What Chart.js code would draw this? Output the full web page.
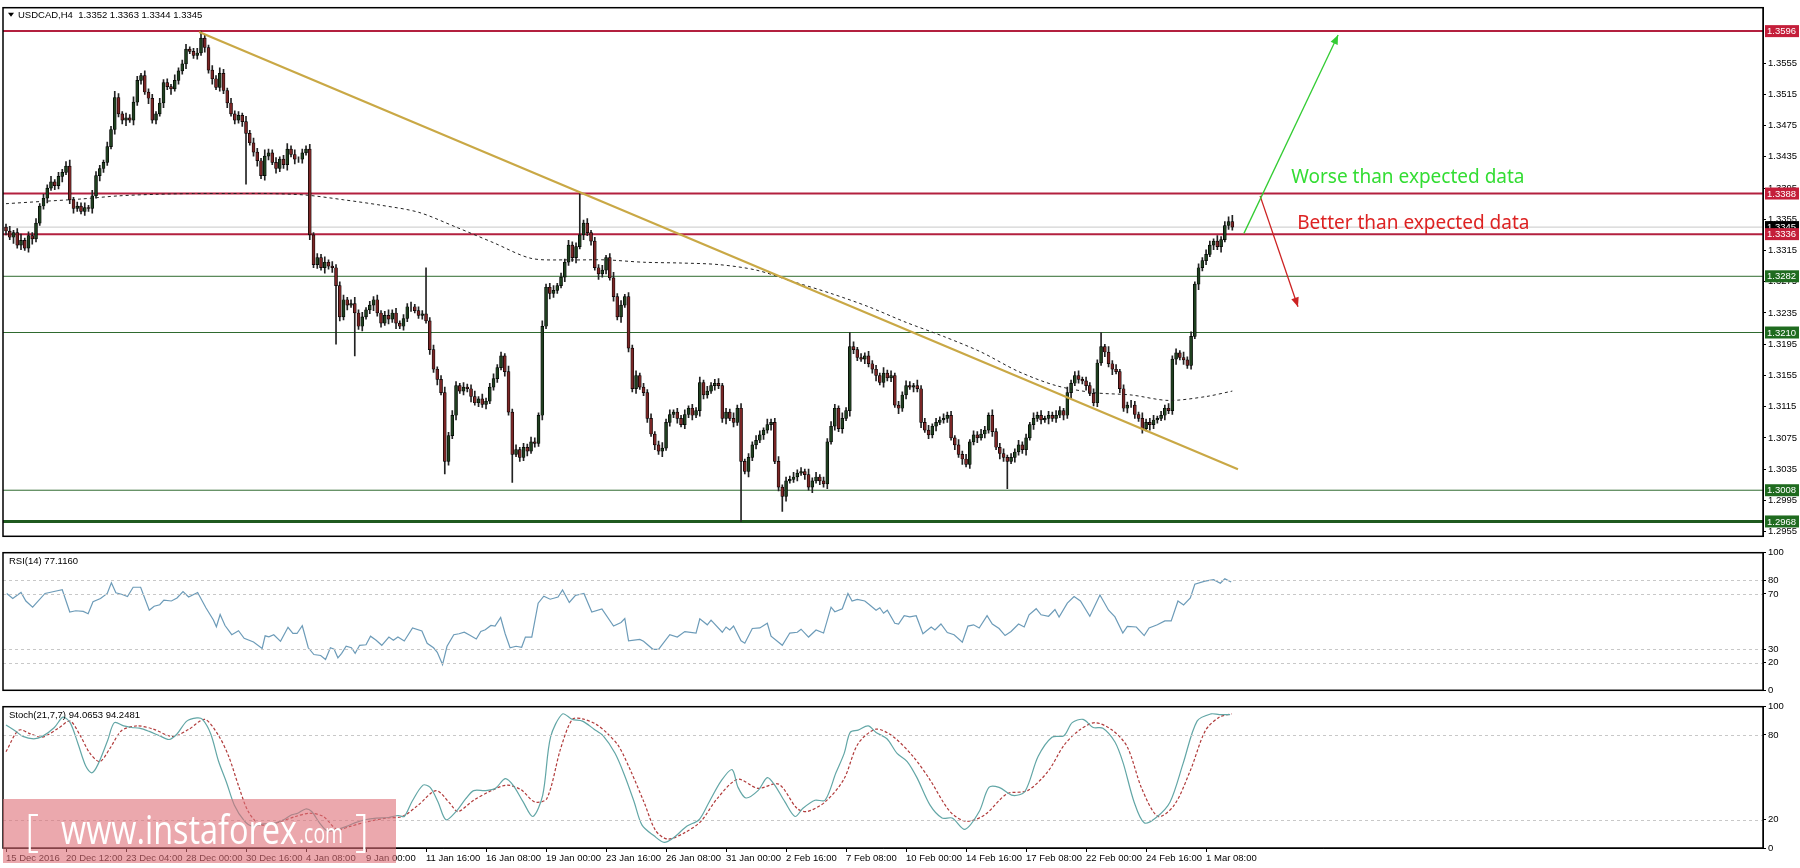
<!DOCTYPE html>
<html><head><meta charset="utf-8">
<script src="https://cdn.jsdelivr.net/npm/chart.js@4"></script>
<style>
html,body{margin:0;padding:0;background:#fff;width:1800px;height:868px;overflow:hidden;font-family:"Liberation Sans",sans-serif}
canvas{position:absolute;left:0}
#wm{position:absolute;left:3px;top:799px;width:393px;height:64px;background:rgba(222,110,118,0.6);color:#fff;font-family:"Open Sans","Liberation Sans",sans-serif;white-space:nowrap;overflow:hidden}
#wm span{position:absolute;top:4px;transform-origin:0 0;display:inline-block}
</style></head><body>
<canvas id="cMain" width="1800" height="544" style="top:0"></canvas>
<canvas id="cRsi" width="1800" height="153" style="top:545px"></canvas>
<canvas id="cSto" width="1800" height="169" style="top:699px"></canvas>
<div id="wm"><span style="left:22px;font-size:44px;font-weight:300;top:0px">[</span><span id="wmt" style="left:58px;font-size:40px;top:2px">www.instaforex</span><span id="wmc" style="left:296px;font-size:28px;top:14px">.com</span><span style="left:352px;font-size:44px;font-weight:300;top:0px">]</span></div>
<script>
// ---- data (prices in pips above 1.3000) ----
const firstOpen = 345;
const closes = [
340,332,338,322,328,318,334,330,350,372,
382,395,403,398,410,415,423,380,369,372,
365,370,369,385,411,420,428,448,470,511,
490,482,485,482,505,533,539,518,510,482,
490,504,530,525,522,533,545,554,573,570,
565,568,587,575,546,535,524,542,520,504,
490,482,488,480,465,453,441,430,411,436,
440,428,420,432,425,445,438,432,432,440,
445,335,297,306,293,300,295,293,270,230,
252,245,247,235,218,230,239,245,252,235,
222,232,227,235,222,218,228,243,243,238,
232,234,225,188,163,150,133,45,78,104,
142,135,140,138,128,120,125,118,122,140,
151,165,180,160,108,54,60,50,63,58,
70,68,104,218,268,260,264,270,281,300,
322,306,320,335,350,338,327,293,285,290,
306,280,256,230,245,256,190,138,155,140,
133,100,80,66,58,62,95,105,108,100,
92,105,113,104,110,146,130,135,142,145,
142,100,108,100,95,113,45,32,50,66,
72,79,85,92,95,45,12,0,20,22,
25,30,32,28,12,20,25,20,16,70,
90,113,87,100,110,192,188,178,176,180,
170,163,155,146,158,152,155,117,113,130,
142,140,142,138,95,85,79,90,95,98,
100,104,75,66,54,48,41,70,79,75,
80,85,104,83,63,55,50,45,50,57,
66,60,75,92,100,104,98,100,104,100,
104,110,104,133,145,155,150,148,142,132,
120,171,192,185,170,163,160,138,113,117,
117,105,100,87,95,92,98,100,104,113,
110,176,184,178,175,168,205,272,293,302,
310,322,327,320,329,347,352,345];
const wickUp = [
4,6,3,5,8,3,5,4,6,3, 5,4,7,3,5,4,6,8,3,5, 4,6,3,7,5,4,3,6,4,8, 5,3,6,4,7,5,3,6,4,5,
3,6,4,5,3,7,4,5,6,3, 4,6,9,5,3,6,4,7,5,3, 6,4,5,3,7,4,6,5,3,8, 5,4,6,3,5,7,4,6,3,5,
4,6,3,5,4,7,3,6,4,5, 6,3,5,8,4,6,3,5,4,6, 3,5,7,4,6,3,5,4,6,3, 5,4,59,4,6,3,5,7,4,6,
5,3,6,4,5,7,3,6,4,5, 6,4,5,3,7,4,6,3,5,4, 6,5,3,7,4,5,6,3,5,4, 6,4,5,53,4,6,3,5,4,6,
3,5,7,4,6,3,5,4,6,3, 5,4,6,3,5,7,4,6,3,5, 4,6,3,5,4,7,3,6,4,5, 6,3,5,4,7,4,6,3,5,4,
6,5,3,7,4,5,6,3,5,4, 6,4,5,3,7,4,6,3,5,4, 6,5,3,7,4,18,6,3,5,4, 6,4,5,3,7,4,6,3,5,4,
6,5,3,7,4,5,6,3,5,4, 6,4,5,3,7,4,6,3,5,4, 6,5,3,7,4,5,6,3,5,4, 6,4,5,3,7,4,6,3,5,4,
6,5,3,7,4,5,6,3,5,4, 6,4,18,3,7,4,6,3,5,4, 6,5,3,7,4,5,6,3,5,4, 6,4,5,3,7,4,6,3,5,4,
6,5,3,7,4,5,6,8];
const wickDn = [
5,3,8,4,6,3,5,7,4,3, 4,6,3,5,4,7,3,5,6,4, 3,5,4,6,3,7,5,4,3,6, 4,5,7,3,6,4,5,3,7,4,
5,3,6,4,7,3,5,4,6,3, 4,5,3,6,4,7,3,5,4,6, 3,5,4,6,65,3,5,7,4,6, 5,3,6,4,5,7,3,6,4,5,
3,6,4,5,3,7,4,6,75,5, 4,6,3,55,4,6,3,5,7,4, 5,3,6,4,7,3,5,4,6,3, 4,5,3,6,4,7,3,16,5,4,
6,3,5,4,7,3,5,4,6,3, 4,5,3,6,4,36,3,5,4,6, 3,5,4,6,3,7,5,4,3,6, 4,5,7,3,6,4,5,3,7,4,
5,3,6,4,7,3,5,4,6,3, 4,5,3,6,4,7,3,5,4,6, 3,5,4,6,3,7,5,4,3,6, 4,5,7,3,6,4,77,3,7,4,
5,3,6,4,7,3,5,19,6,3, 4,5,3,6,4,7,3,5,4,6, 3,5,4,6,3,7,5,4,3,6, 4,5,7,3,6,4,5,3,7,4,
5,3,6,4,7,3,5,4,6,3, 4,5,3,6,4,7,3,5,4,6, 3,5,4,6,3,7,5,35,3,6, 4,5,7,3,6,4,5,3,7,4,
5,3,6,4,7,3,5,4,6,3, 4,5,3,6,4,7,3,5,4,6, 3,5,4,6,3,7,5,4,3,6, 4,5,7,3,6,4,5,3,7,4,
5,3,6,4,7,3,5,4];
const maBars = [0,10,20,30,40,50,60,70,80,90,100,110,120,130,140,150,160,170,180,190,200,210,220,230,240,250,260,270,280,290,300,310,320,327];
const maVals = [375,378,381,385,387,388,388,388,386,380,373,364,345,325,305,303,303,300,299,297,290,275,260,243,223,205,185,160,142,133,130,123,128,135];
const trendBars = [51.5, 328.5];
const trendVals = [1.3595, 1.3035];
const levels = [1.3596, 1.3388, 1.3345, 1.3336, 1.3282, 1.3210, 1.3008, 1.2968];
const levelKinds = ['red','red','cur','red','green','green','green','green2'];
const greenArrowBars = [330.1, 355.2], greenArrowVals = [1.3337, 1.3591];
const redArrowBars = [334.4, 344.5], redArrowVals = [1.3385, 1.3243];
const notes = [{t:'Worse than expected data', bar:342.7, v:1.3409, c:'#33dd33'},{t:'Better than expected data', bar:344.3, v:1.3350, c:'#dd2222'}];
const rsiBars = [0.2,1.8,4,5.3,7.1,10.4,12.5,15,17,18.6,20.6,21.9,23.2,25.2,27,28.1,29.3,30.8,32.4,33.9,35.9,38.2,39.5,41,42.1,44.1,45.6,47.2,48.7,51.1,53.3,55.3,56.1,57.1,58.4,60.2,62,63.5,66,68.3,69.1,70.1,71.4,73.2,75.2,76.5,77.6,79,80.6,82.1,83.9,85.2,86.5,87.5,88.5,89.5,90.7,92.1,93.1,94.3,96,97.2,98.7,100.2,102.1,103.3,104.5,106.2,108.4,110.9,112.3,114,115,116.4,117.6,119.4,120.8,122.2,123.7,125.4,126.6,127.8,129.3,130.4,131.9,133.1,134.4,136,137.5,138.5,140.2,141.9,143.4,145.1,147.2,148.4,150.2,151.8,154.1,156.2,158.9,162,164,165,166,169,170,172.5,174,177,179,181,184,185,187,188,191,192,193,194,196,197,199,201,203,204,207,209,211,212,214,216,218,220,221,223,224.5,225.6,227,229,230,232,233,234,235,237,238,239.5,241,242.7,244.5,246.7,247.7,249.3,251,252.8,255,256.5,258,259.5,261.6,263,264.8,266.4,268,270,271.5,272.8,274.7,276,278,279.7,280.8,283,284.8,286.5,289,291.7,294,295.7,297.8,299,301.4,303.5,304.8,307,309,310.7,312.5,314,315.8,317,319.7,322,323.8,325,326.7];
const rsiVals = [70.4,66.7,71.1,64.9,60.4,70.4,71.6,73.1,56.9,57.8,57.3,55.6,64.4,66.7,70.4,78.2,70.9,69.8,68.2,74.9,74.9,58.2,61.1,62.2,65.6,64.9,67.1,71.8,67.8,71.1,60,51.1,46.2,55.1,47.1,40.4,43.3,37.8,35.1,30.4,39.6,38.9,40.4,35.6,45.8,41.3,41.3,46.9,30.9,26,25.3,22.4,30.9,29.8,23.6,26.9,32,30.9,26.9,32.7,33.1,39.3,36.4,32.7,38.7,36.4,38.7,35.8,45.3,43.1,34.2,30.9,27.6,18.7,32,40.4,41.1,42.2,40,37.3,42.7,44,47.1,46.7,52.9,41.1,30.9,32,31.3,38.7,38.7,63.3,68.4,66.2,67.8,72.9,63.8,68.9,70.4,56.9,59.1,46.7,49.3,52.2,36,37,35.6,29.8,29.8,40.4,38.7,42.7,41.6,52,47.6,51,42.2,46,43.8,46.7,36,34.2,44.9,45.3,48.7,39.3,32.7,41.6,42.2,44.4,38.7,43.8,41.6,60.4,57.1,59.3,70.4,64.9,66,64.9,62.7,58.2,60,56,58.2,48.7,48.2,54.2,53.3,54.2,41.1,46,43.8,48.2,42,40.4,34.9,46.7,47.6,45.3,54.2,48.2,44.9,39.8,42.7,48.2,46,54.9,59.3,54.9,53.8,58.7,53.3,63.3,68.2,64.9,53.8,69.3,58.2,53.3,41.6,46.4,46,39.8,45.3,47.6,50.4,50.4,64.9,62,67.1,77.1,79.3,80.4,77.8,81,78.7];
const kBars = [0,2.4,4.5,7.4,9.7,12.9,15.2,17.1,19.2,21.3,22.9,24.5,27.1,28.9,31.4,33.5,35.6,38.2,40.9,43.5,45.6,48.2,50.9,52.4,54.6,56.7,58.8,60.9,63.5,65.6,68.8,72,74,76.2,77.8,79.9,81.5,83.6,85.7,88.3,91,93,95.7,98.8,102,104.6,106.2,108.3,111.2,113.1,115.2,117.3,120,122.6,124.7,127.8,130.5,133.1,135.2,137.9,140.5,143.1,145.2,148.4,151,153.7,156.8,159.2,162.4,165,167.5,169.6,172.8,175.5,178.1,181.6,184.8,187.5,190.7,193.6,195.2,197.3,200.5,203,204.8,207.7,210.4,212.5,215.7,218.4,221.3,223.5,225.1,227.2,229.9,232,234.9,237.6,240.3,242.9,246.4,249.6,252.3,255.7,259.5,262.1,264.8,268.5,271.7,275.2,278.9,282.1,284.3,287.2,289.9,292.5,295.7,297.9,300.8,303.5,306.7,310.4,313.9,317.6,321.3,323.5,326.4];
const kVals = [87.1,83,79,77.3,79,85.3,92.6,88.7,73.8,57.8,53.2,59,76.1,88.7,86.4,85.3,84.8,82.5,79.5,76.8,80.7,89.8,92.1,91,80.7,61.2,46.4,30.3,19.4,15.5,17.1,17.8,20,23.5,24.6,27.6,25.8,17.8,12,13.2,15.5,17.8,20,21.2,21.6,23,22.3,33.1,44.5,42.9,32.6,20,25.8,34.9,40.6,40.6,42.2,49.1,44.5,32.6,22.3,37.2,78.4,94.9,91,89.8,84.1,79.5,67,51,32.6,16.2,8.6,4,7.5,15.5,20,32.6,47.5,55.5,42.9,35.4,40.6,49.8,45.2,32.6,22.3,28.1,33.8,33.8,53.2,67,81.8,83.4,86.4,81.8,77.3,67,61.2,49.8,30.3,21.2,21.2,13.2,25.8,42.9,42.9,37.2,40,64.7,78.4,79.5,88.7,91,85.3,84.8,75,60.1,32.6,17.8,21.6,32.6,60.1,89.8,94.9,94.4,94.4];
const dBars = [0,3.4,6.6,9.7,14,17.1,19.8,22.4,25,27.7,30.8,35,39.3,44.5,48.8,53,56.7,59.4,62,64.6,67.8,72,77.2,80.9,84.6,88.3,92,96.2,101.5,105.7,109.9,114.7,118.4,120.5,124.7,129.4,133.6,137.3,141,144.2,147.9,151,153.7,157.4,160.5,163.5,166.8,170.1,173.3,176.5,181,185.3,189.6,195.1,200.5,206,210.9,213.6,218.4,223.4,227.2,232,236.5,241.9,246.3,251.7,256,261,266.9,272.4,277.9,282.1,286,290.4,295.2,299,302.9,307.2,311.5,315.9,319.8,323.5,326.8];
const dVals = [68.1,83.4,80.7,78.4,84.8,89.8,79.5,67,61.2,70.4,83,86.4,84.1,78.9,84.1,91,79.5,64.7,44.1,25.8,16.6,17.8,22.3,24.6,22.3,13.2,15.5,18.5,21.2,22.3,30.3,40.6,31.5,25.8,33.8,40.6,44.5,41.3,32.6,34.9,70.4,91,91.4,87.5,80.7,71.5,53.2,32.6,12,6.3,10.9,18.9,34.9,48.6,42.2,45.2,28.1,25.8,32.6,48.6,73.8,84.1,78.9,64.7,48.6,25.8,18.9,23.5,38.3,40.6,54.4,72.7,83,88.7,83,71.5,41.8,22.3,30.3,55.5,83,92.6,94.9];
const xTickLabels = ['15 Dec 2016','20 Dec 12:00','23 Dec 04:00','28 Dec 00:00','30 Dec 16:00','4 Jan 08:00','9 Jan 00:00','11 Jan 16:00','16 Jan 08:00','19 Jan 00:00','23 Jan 16:00','26 Jan 08:00','31 Jan 00:00','2 Feb 16:00','7 Feb 08:00','10 Feb 00:00','14 Feb 16:00','17 Feb 08:00','22 Feb 00:00','24 Feb 16:00','1 Mar 08:00'];
const barsPerLabel = 16;
const priceTicks = [1.2955,1.2995,1.3035,1.3075,1.3115,1.3155,1.3195,1.3235,1.3275,1.3315,1.3355,1.3395,1.3435,1.3475,1.3515,1.3555];

// ---- build ----
const P = p => 1.3 + p/10000;
const bodies=[], wicks=[], bodyCol=[];
closes.forEach((c,i)=>{
  const o = i===0?firstOpen:closes[i-1];
  bodies.push({x:i,y:[P(o),P(c)]});
  wicks.push({x:i,y:[P(Math.min(o,c)-wickDn[i]),P(Math.max(o,c)+wickUp[i])]});
  bodyCol.push(c>=o?'#1f3f1f':'#7a2626');
});
const XMIN=-0.8, XMAX=468.5;
const FF='Liberation Sans';
const FONT={family:FF,size:9.5};
Chart.defaults.font.family=FF;
Chart.defaults.animation=false;
const yAxisBase = {position:'right',afterFit:s=>{s.width=37;},border:{color:'#000'},grid:{drawOnChartArea:false,tickLength:3,color:'#000'},ticks:{color:'#000',font:FONT,padding:2,autoSkip:false}};
const xHidden = {type:'linear',min:XMIN,max:XMAX,display:false,offset:false};

function framePlugin(title, dashed){
  return {id:'frame',afterDatasetsDraw(ch){
    const a=ch.chartArea,ctx=ch.ctx,y=ch.scales.y;
    ctx.save();
    ctx.setLineDash([3,3]);ctx.strokeStyle='#c8c8c8';ctx.lineWidth=1;
    dashed.forEach(v=>{const py=Math.round(y.getPixelForValue(v))+0.5;ctx.beginPath();ctx.moveTo(a.left,py);ctx.lineTo(a.right,py);ctx.stroke();});
    ctx.setLineDash([]);
    ctx.strokeStyle='#000';ctx.lineWidth=1.5;ctx.strokeRect(a.left,a.top,a.right-a.left,a.bottom-a.top);
    ctx.fillStyle='#000';ctx.font='9.5px '+FF;ctx.textBaseline='top';ctx.fillText(title,a.left+6,a.top+4);
    ctx.restore();
  }};
}

const levelStyle={red:['#b3203f',2,'#c41e3a'],cur:['#c8c8c8',1,'#000'],green:['#2f6a2f',1,'#1f6b1f'],green2:['#1f5a1f',3,'#1f6b1f']};
const mainPlugin={id:'mainDeco',
  beforeDatasetsDraw(ch){
    const a=ch.chartArea,ctx=ch.ctx,y=ch.scales.y;ctx.save();
    levels.forEach((v,i)=>{const st=levelStyle[levelKinds[i]];const py=y.getPixelForValue(v);
      ctx.strokeStyle=st[0];ctx.lineWidth=st[1];ctx.beginPath();ctx.moveTo(a.left,py);ctx.lineTo(a.right,py);ctx.stroke();});
    ctx.restore();
  },
  afterDatasetsDraw(ch){
    const a=ch.chartArea,ctx=ch.ctx,x=ch.scales.x,y=ch.scales.y;ctx.save();
    const head=(bx,by,ax,ay,col)=>{const x1=x.getPixelForValue(bx),y1=y.getPixelForValue(by),x2=x.getPixelForValue(ax),y2=y.getPixelForValue(ay);
      const an=Math.atan2(y2-y1,x2-x1);ctx.fillStyle=col;ctx.beginPath();ctx.moveTo(x2,y2);
      ctx.lineTo(x2-10*Math.cos(an-0.4),y2-10*Math.sin(an-0.4));ctx.lineTo(x2-10*Math.cos(an+0.4),y2-10*Math.sin(an+0.4));ctx.closePath();ctx.fill();};
    head(greenArrowBars[0],greenArrowVals[0],greenArrowBars[1],greenArrowVals[1],'#33cc33');
    head(redArrowBars[0],redArrowVals[0],redArrowBars[1],redArrowVals[1],'#cc2222');
    ctx.font='19px "Noto Sans"';ctx.textBaseline='middle';
    notes.forEach(n=>{ctx.fillStyle=n.c;ctx.fillText(n.t,x.getPixelForValue(n.bar),y.getPixelForValue(n.v));});
    ctx.strokeStyle='#000';ctx.lineWidth=1.5;ctx.strokeRect(a.left,a.top,a.right-a.left,a.bottom-a.top);
    ctx.fillStyle='#000';ctx.beginPath();ctx.moveTo(a.left+5,a.top+5);ctx.lineTo(a.left+11,a.top+5);ctx.lineTo(a.left+8,a.top+9);ctx.fill();
    ctx.font='9.5px '+FF;ctx.textBaseline='top';ctx.fillText('USDCAD,H4  1.3352 1.3363 1.3344 1.3345',a.left+15,a.top+3);
    ctx.restore();
  },
  afterDraw(ch){
    const a=ch.chartArea,ctx=ch.ctx,y=ch.scales.y;ctx.save();ctx.font='9.5px '+FF;ctx.textBaseline='middle';
    levels.forEach((v,i)=>{const st=levelStyle[levelKinds[i]];const py=y.getPixelForValue(v);
      ctx.fillStyle=st[2];ctx.fillRect(a.right+2,py-6,34,12);ctx.fillStyle='#fff';ctx.fillText(v.toFixed(4),a.right+4,py+0.5);});
    ctx.restore();
  }};
new Chart(document.getElementById('cMain'),{
  data:{datasets:[
    {type:'bar',data:wicks,backgroundColor:'#222',barThickness:1,grouped:false,order:3},
    {type:'bar',data:bodies,backgroundColor:bodyCol,borderColor:'#000',borderWidth:0.7,borderSkipped:false,barThickness:3,grouped:false,order:2},
    {type:'line',data:maBars.map((b,i)=>({x:b,y:P(maVals[i])})),borderColor:'#222',borderWidth:1,borderDash:[3,3],pointRadius:0,tension:0.3,order:1},
    {type:'line',data:trendBars.map((b,i)=>({x:b,y:trendVals[i]})),borderColor:'#c9a845',borderWidth:2.2,pointRadius:0,order:0},
    {type:'line',data:greenArrowBars.map((b,i)=>({x:b,y:greenArrowVals[i]})),borderColor:'#33cc33',borderWidth:1.3,pointRadius:0,order:0},
    {type:'line',data:redArrowBars.map((b,i)=>({x:b,y:redArrowVals[i]})),borderColor:'#cc2222',borderWidth:1.3,pointRadius:0,order:0}
  ]},
  options:{responsive:false,devicePixelRatio:1,layout:{padding:{left:3,top:6,right:0,bottom:1}},
    plugins:{legend:{display:false},tooltip:{enabled:false}},
    scales:{x:xHidden,y:Object.assign({},yAxisBase,{min:1.2949,max:1.3626,afterBuildTicks:s=>{s.ticks=priceTicks.map(v=>({value:v}));},ticks:Object.assign({},yAxisBase.ticks,{callback:v=>v.toFixed(4)})})}},
  plugins:[mainPlugin]
});

new Chart(document.getElementById('cRsi'),{
  type:'line',
  data:{datasets:[{data:rsiBars.map((b,i)=>({x:b,y:rsiVals[i]})),borderColor:'#6c9bb8',borderWidth:1.2,pointRadius:0}]},
  options:{responsive:false,devicePixelRatio:1,layout:{padding:{left:3,top:1,right:0,bottom:1}},
    plugins:{legend:{display:false},tooltip:{enabled:false}},
    scales:{x:xHidden,y:Object.assign({},yAxisBase,{min:0,max:100,afterBuildTicks:s=>{s.ticks=[0,20,30,70,80,100].map(v=>({value:v}));}})}},
  plugins:[framePlugin('RSI(14) 77.1160',[80,70,30,20])]
});

new Chart(document.getElementById('cSto'),{
  type:'line',
  data:{datasets:[
    {data:kBars.map((b,i)=>({x:b,y:kVals[i]})),borderColor:'#62a6a6',borderWidth:1.2,pointRadius:0,tension:0.3},
    {data:dBars.map((b,i)=>({x:b,y:dVals[i]})),borderColor:'#b03a3a',borderWidth:1.2,borderDash:[3,2],pointRadius:0,tension:0.3}
  ]},
  options:{responsive:false,devicePixelRatio:1,layout:{padding:{left:3,top:2,right:0,bottom:0}},
    plugins:{legend:{display:false},tooltip:{enabled:false}},
    scales:{
      x:{type:'linear',min:XMIN,max:XMAX,offset:false,afterFit:s=>{s.height=20;},border:{color:'#000'},
        grid:{drawOnChartArea:false,tickLength:4,color:'#000'},
        afterBuildTicks:s=>{s.ticks=xTickLabels.map((t,i)=>({value:i*barsPerLabel}));},
        ticks:{align:'start',autoSkip:false,maxRotation:0,font:FONT,color:'#000',padding:1,callback:(v)=>xTickLabels[Math.round(v/barsPerLabel)]}},
      y:Object.assign({},yAxisBase,{min:0,max:100,afterBuildTicks:s=>{s.ticks=[0,20,80,100].map(v=>({value:v}));}})}},
  plugins:[framePlugin('Stoch(21,7,7) 94.0653 94.2481',[80,20])]
});
// fit watermark text widths
const fit=(id,w)=>{const e=document.getElementById(id);const r=e.getBoundingClientRect().width;e.style.transform='scaleX('+(w/r)+')';};
fit('wmt',236);fit('wmc',44);
</script></body></html>
